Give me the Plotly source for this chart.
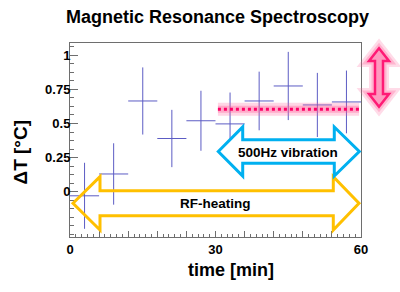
import plotly.graph_objects as go

# ---- data ----
time_min = [3, 9, 15, 21, 27, 33, 39, 45, 51, 57]
delta_T = [-0.03, 0.13, 0.665, 0.39, 0.52, 0.497, 0.665, 0.775, 0.636, 0.658]
err_T = [0.242, 0.225, 0.246, 0.21, 0.22, 0.23, 0.215, 0.25, 0.235, 0.23]
err_time = [3] * len(time_min)
ref_level = 0.605
ref_span = [30.5, 59.6]

x_ticks = [0, 6, 12, 18, 24, 30, 36, 42, 48, 54, 60]
x_ticktext = ["0", "", "", "", "", "30", "", "", "", "", "60"]
y_ticks = [0, 0.25, 0.5, 0.75, 1]
y_ticktext = ["0", "0.25", "0.5", "0.75", "1"]

W, H = 400, 292
L, R, T, B = 70, 39, 43, 55
PW, PH = W - L - R, H - T - B

def px(xp, yp):
    return (xp - L) / PW, (H - B - yp) / PH

def path(points):
    s = ""
    for i, (a, b) in enumerate(points):
        u, v = px(a, b)
        s += ("M" if i == 0 else "L") + f"{u:.4f},{v:.4f} "
    return s + "Z"

FONT = "Liberation Sans, Arial, sans-serif"

fig = go.Figure()
fig.add_trace(go.Scatter(
    x=time_min, y=delta_T, mode="markers",
    marker=dict(size=1, color="rgba(0,0,0,0)"),
    error_x=dict(type="data", array=err_time, width=0, thickness=1, color="#5c5cc4"),
    error_y=dict(type="data", array=err_T, width=0, thickness=1, color="#5c5cc4"),
    showlegend=False, hoverinfo="skip",
))

shapes = []
# reference dotted line with glow
shapes.append(dict(type="line", xref="x", yref="y", x0=ref_span[0], x1=ref_span[1],
                   y0=ref_level, y1=ref_level, line=dict(color="rgba(255,90,150,0.25)", width=13)))
shapes.append(dict(type="line", xref="x", yref="y", x0=ref_span[0], x1=ref_span[1],
                   y0=ref_level, y1=ref_level, line=dict(color="rgba(255,90,150,0.35)", width=7)))
shapes.append(dict(type="line", xref="x", yref="y", x0=ref_span[0], x1=ref_span[1],
                   y0=ref_level, y1=ref_level, line=dict(color="#ff0066", width=3, dash="dot")))

# orange RF-heating double arrow (no fill)
cy = 203.3
orange = [(73, cy), (100, cy - 26.7), (100, cy - 12.5), (333.3, cy - 12.5), (333.3, cy - 26.7),
          (359, cy), (333.3, cy + 26.7), (333.3, cy + 12.5), (100, cy + 12.5), (100, cy + 26.7)]
shapes.append(dict(type="path", xref="paper", yref="paper", path=path(orange),
                   line=dict(color="#ffc000", width=3), fillcolor="rgba(0,0,0,0)", layer="above"))

# blue 500Hz vibration double arrow (white fill)
cy = 151.5
blue = [(218.3, cy), (242.7, cy - 24.5), (242.7, cy - 11.7), (334.3, cy - 11.7), (334.3, cy - 24.5),
        (359.3, cy), (334.3, cy + 24.5), (334.3, cy + 11.7), (242.7, cy + 11.7), (242.7, cy + 24.5)]
shapes.append(dict(type="path", xref="paper", yref="paper", path=path(blue),
                   line=dict(color="#00b0f0", width=3), fillcolor="white", layer="above"))

# pink vertical double arrow outside the frame
cx = 379
pink = [(cx, 48.3), (cx + 10, 61), (cx + 4, 61), (cx + 4, 94), (cx + 10, 94), (cx, 106.7),
        (cx - 10, 94), (cx - 4, 94), (cx - 4, 61), (cx - 10, 61)]
shapes.append(dict(type="path", xref="paper", yref="paper", path=path(pink),
                   line=dict(color="rgba(255,90,150,0.22)", width=12), fillcolor="rgba(0,0,0,0)"))
shapes.append(dict(type="path", xref="paper", yref="paper", path=path(pink),
                   line=dict(color="rgba(255,90,150,0.30)", width=7), fillcolor="rgba(0,0,0,0)"))
shapes.append(dict(type="path", xref="paper", yref="paper", path=path(pink),
                   line=dict(color="#ff1a75", width=2.5), fillcolor="#ff99bf"))

annotations = [
    dict(text="Magnetic Resonance Spectroscopy", xref="paper", yref="paper",
         x=px(217, 0)[0], y=px(0, 17)[1], showarrow=False, xanchor="center", yanchor="middle",
         font=dict(family=FONT, size=18, color="black", weight="bold")),
    dict(text="time [min]", xref="paper", yref="paper",
         x=px(231, 0)[0], y=px(0, 270)[1], showarrow=False, xanchor="center", yanchor="middle",
         font=dict(family=FONT, size=18, color="black", weight="bold")),
    dict(text="ΔT [°C]", xref="paper", yref="paper", textangle=-90,
         x=px(19.5, 0)[0], y=px(0, 152)[1], showarrow=False, xanchor="center", yanchor="middle",
         font=dict(family=FONT, size=19, color="black", weight="bold")),
    dict(text="500Hz vibration", xref="paper", yref="paper",
         x=px(288, 0)[0], y=px(0, 152)[1], showarrow=False, xanchor="center", yanchor="middle",
         font=dict(family=FONT, size=13.5, color="black", weight="bold")),
    dict(text="RF-heating", xref="paper", yref="paper",
         x=px(215.3, 0)[0], y=px(0, 203.5)[1], showarrow=False, xanchor="center", yanchor="middle",
         font=dict(family=FONT, size=13.5, color="black", weight="bold")),
]

fig.update_layout(
    width=W, height=H, margin=dict(l=L, r=R, t=T, b=B),
    paper_bgcolor="white", plot_bgcolor="white",
    shapes=shapes, annotations=annotations, showlegend=False,
    xaxis=dict(range=[0, 60], showgrid=False, zeroline=False, showline=True, mirror=True,
               linecolor="#6e6e6e", linewidth=1, ticks="inside", ticklen=6, tickcolor="#6e6e6e",
               tickvals=x_ticks, ticktext=x_ticktext, automargin=False,
               tickfont=dict(family=FONT, size=13, color="black", weight="bold"),
               minor=dict(ticks="inside", dtick=1.2, tick0=0, ticklen=3, tickcolor="#6e6e6e")),
    yaxis=dict(range=[-0.332, 1.09], showgrid=False, zeroline=False, showline=True, mirror=True,
               linecolor="#6e6e6e", linewidth=1, ticks="inside", ticklen=8, tickcolor="#6e6e6e",
               tickvals=y_ticks, ticktext=y_ticktext, automargin=False, ticklabelstandoff=-4,
               tickfont=dict(family=FONT, size=13, color="black", weight="bold"),
               minor=dict(ticks="inside", dtick=0.0625, tick0=0, ticklen=4, tickcolor="#6e6e6e")),
)

fig.write_html("out.html", config={"displayModeBar": False},
               post_script="document.body.style.margin='0';document.body.style.padding='0';")
